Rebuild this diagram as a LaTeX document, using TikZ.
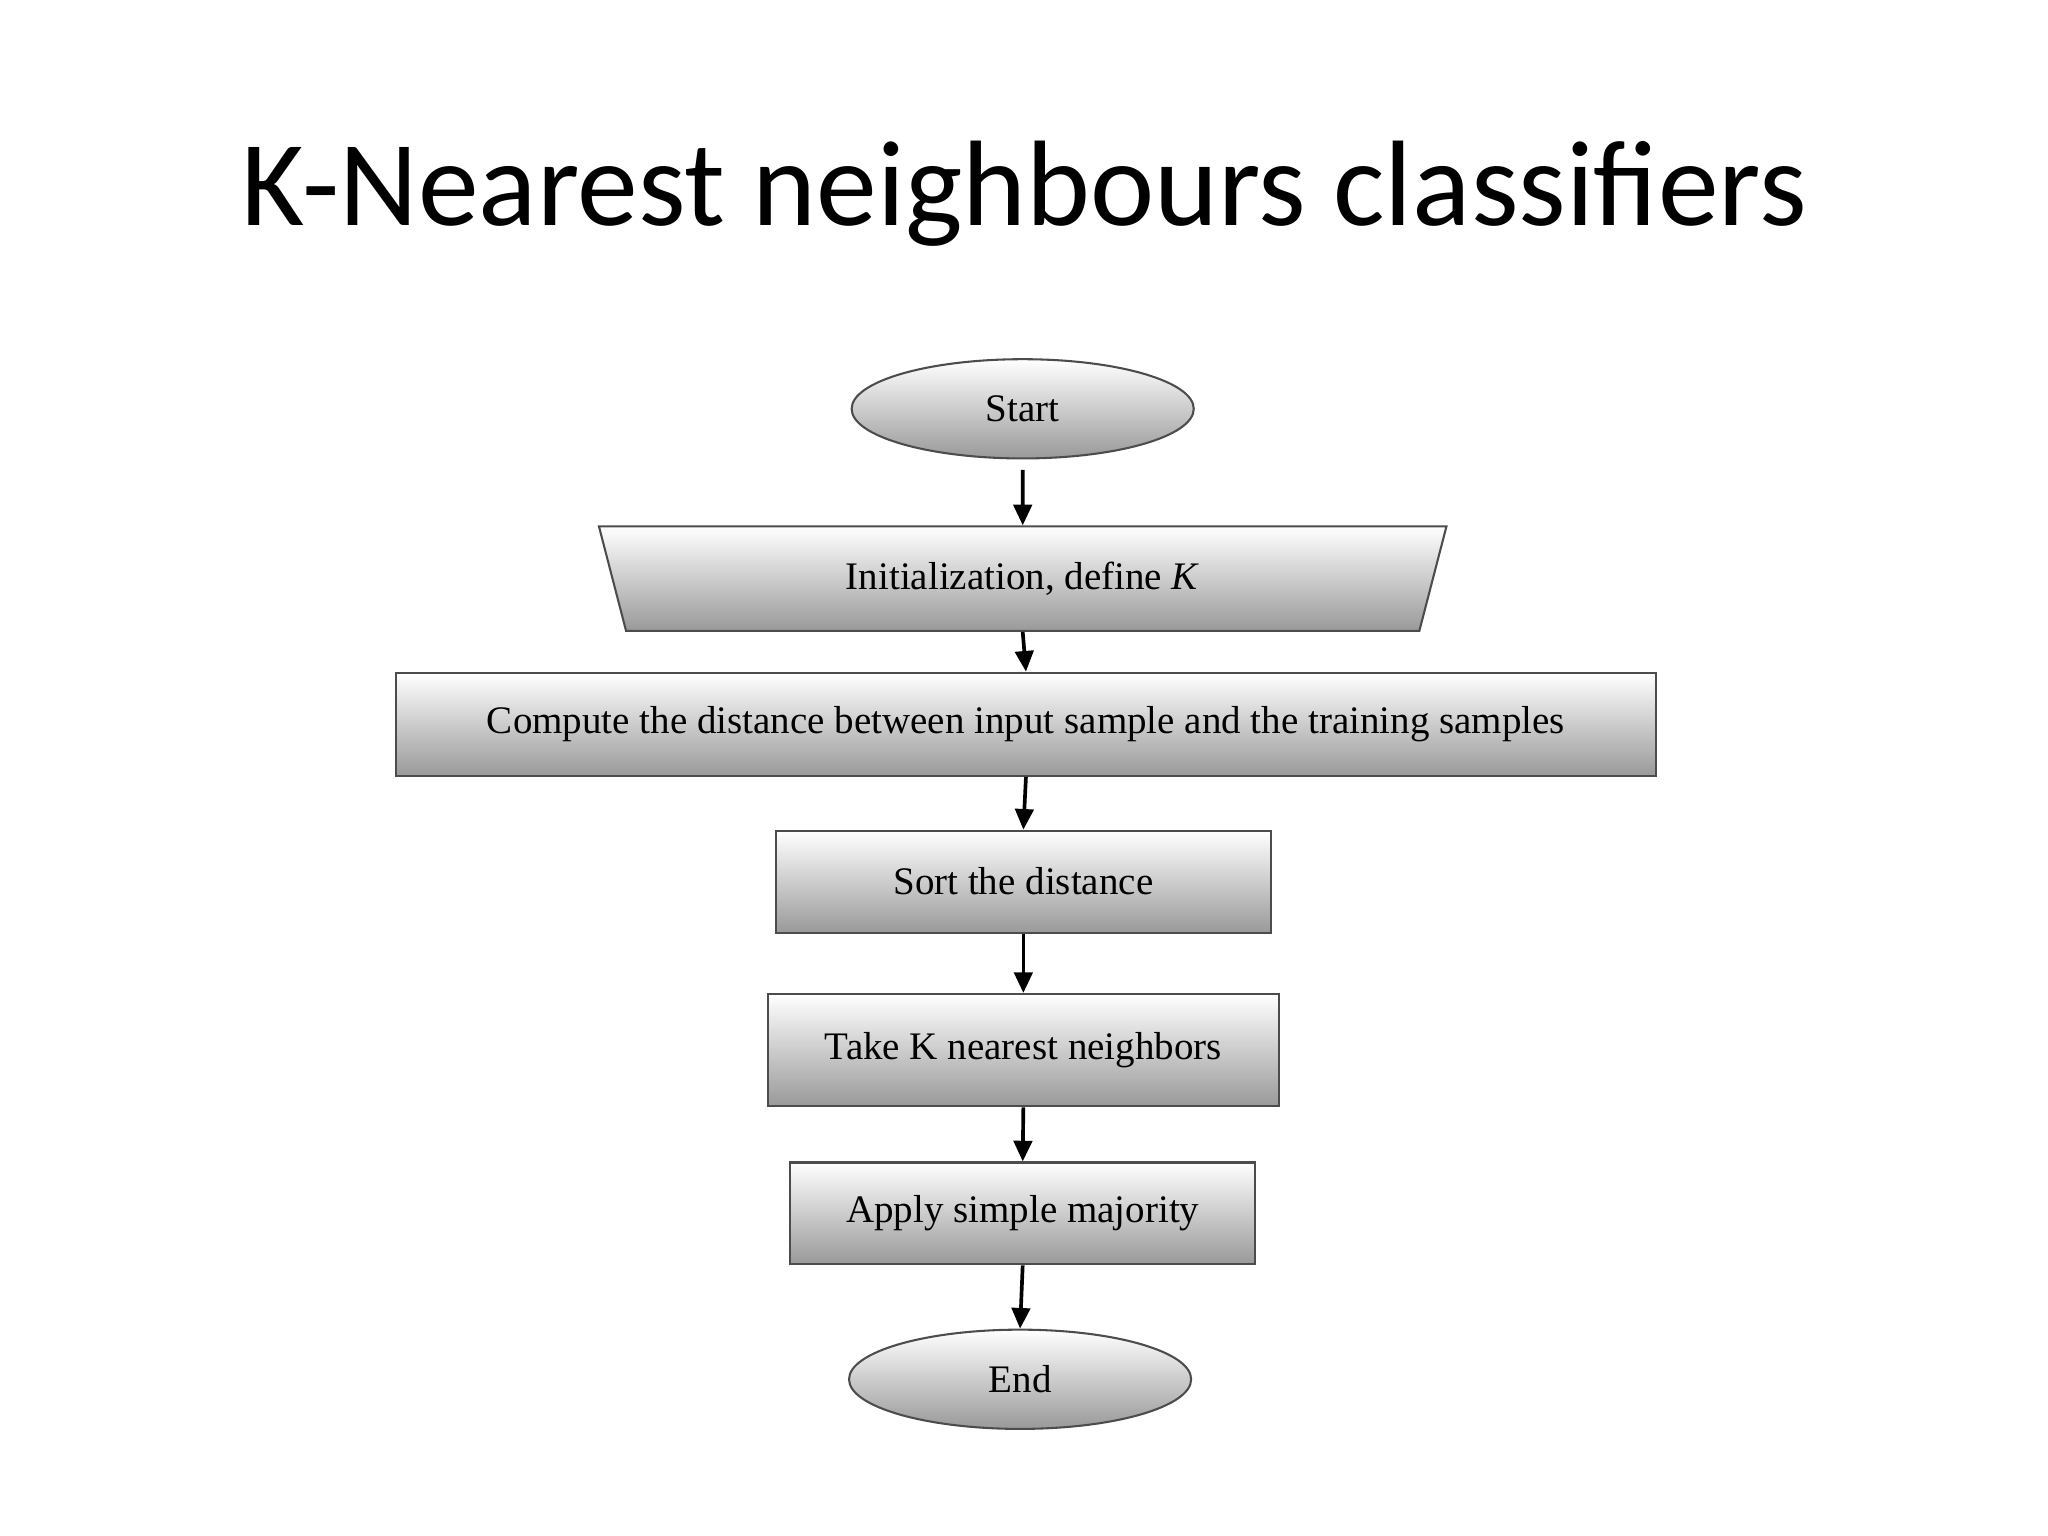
\documentclass[tikz,border=0pt]{standalone}
\usepackage{fontspec}
\setmainfont{Liberation Serif}
\newfontfamily\titlefont{Carlito}
\usetikzlibrary{shapes.geometric,arrows.meta}
\begin{document}
\begin{tikzpicture}[x=0.02cm,y=-0.02cm,
  box/.style={draw=black!70,line width=0.9pt,top color=white,bottom color=black!40,rectangle,font=\fontsize{17}{20}\selectfont},
  oval/.style={draw=black!70,line width=0.9pt,top color=white,bottom color=black!40,ellipse,inner sep=0pt,font=\fontsize{17}{20}\selectfont},
  arr/.style={-{Triangle[length=9pt,width=8pt]},line width=1.6pt}]
\useasboundingbox (0,0) rectangle (1568,1176);
\node[font=\titlefont\fontsize{53}{60}\selectfont] (title) at (784,148) {K-Nearest neighbours classifiers};
\node[oval,minimum width=5.24cm,minimum height=1.52cm] (start) at (783,313) {Start};
\node[box,trapezium,shape border rotate=180,trapezium stretches body,trapezium angle=51,
  minimum width=12.98cm,minimum height=1.6cm,inner sep=0pt] (init) at (783,443) {Initialization, define \textit{K}};
\node[box,minimum width=19.3cm,minimum height=1.58cm] (comp) at (785.5,554.5) {Compute the distance between input sample and the training samples};
\node[box,minimum width=7.58cm,minimum height=1.56cm] (sort) at (783.5,675) {Sort the distance};
\node[box,minimum width=7.82cm,minimum height=1.72cm] (take) at (783.5,804) {Take K nearest neighbors};
\node[box,minimum width=7.12cm,minimum height=1.56cm] (apply) at (783,929) {Apply simple majority};
\node[oval,minimum width=5.24cm,minimum height=1.52cm] (end) at (781,1056) {End};
\draw[arr] (start.south) ++(0,8) -- (init.north);
\draw[arr] (init.south) -- (comp.north);
\draw[arr] (comp.south) -- (sort.north);
\draw[arr] (sort.south) -- (take.north);
\draw[arr] (take.south) -- (apply.north);
\draw[arr] (apply.south) -- (end.north);
\end{tikzpicture}
\end{document}
